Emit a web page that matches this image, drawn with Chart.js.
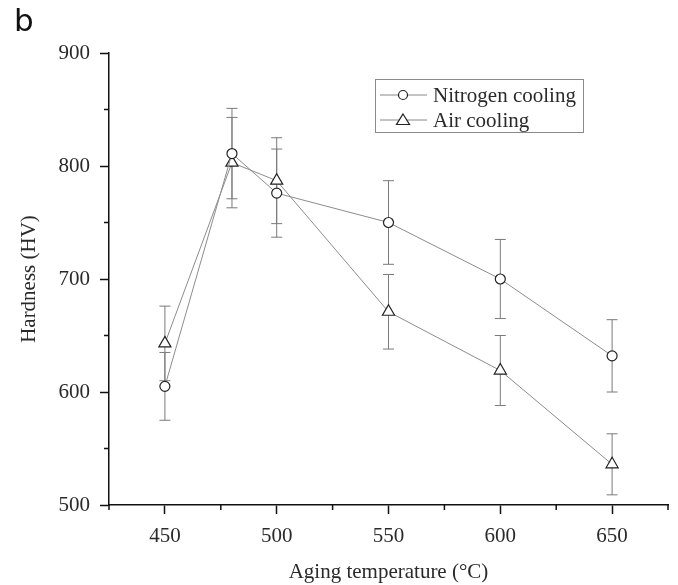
<!DOCTYPE html>
<html>
<head>
<meta charset="utf-8">
<script src="https://cdn.jsdelivr.net/npm/chart.js@4/dist/chart.umd.min.js"></script>
<style>
  html, body { margin: 0; padding: 0; background: #fff; }
  #wrap { position: relative; width: 678px; height: 585px; }
  #panel { position: absolute; left: 14px; top: 2px; font: 31px "DejaVu Sans", sans-serif; color: #111; }
</style>
</head>
<body>
<div id="wrap">
  <canvas id="hardness" width="678" height="585"></canvas>
  <div id="panel">b</div>
</div>
<script>
// aging temperature (°C)
const temps = [450, 480, 500, 550, 600, 650];
// hardness (HV) and error bar half-heights
const nitrogen = [605, 811, 776, 750, 700, 632];
const nitrogenErr = [30, 40, 39, 37, 35, 32];
const air = [643, 803, 787, 671, 619, 536];
const airErr = [33, 40, 38, 33, 31, 27];
const seriesNames = ['Nitrogen cooling', 'Air cooling'];
const xTicks = [450, 500, 550, 600, 650];
const yTicks = [500, 600, 700, 800, 900];

const serif = '"Liberation Serif", "Times New Roman", serif';
const textColor = '#2a2a2a';

function toPoints(xs, ys) {
    return xs.map((x, i) => ({ x: x, y: ys[i] }));
}

// error bars, drawn under the markers
const errorBars = {
    id: 'errorBars',
    beforeDatasetsDraw(chart) {
        const { ctx, scales: { x, y } } = chart;
        const errs = [nitrogenErr, airErr];
        ctx.save();
        ctx.strokeStyle = '#7a7a7a';
        ctx.lineWidth = 1;
        chart.data.datasets.forEach((ds, d) => {
            ds.data.forEach((p, i) => {
                const px = x.getPixelForValue(p.x);
                const top = y.getPixelForValue(p.y + errs[d][i]);
                const bot = y.getPixelForValue(p.y - errs[d][i]);
                ctx.beginPath();
                ctx.moveTo(px, top); ctx.lineTo(px, bot);
                ctx.moveTo(px - 5.5, top); ctx.lineTo(px + 5.5, top);
                ctx.moveTo(px - 5.5, bot); ctx.lineTo(px + 5.5, bot);
                ctx.stroke();
            });
        });
        ctx.restore();
    }
};

// short minor ticks
const minorTicks = {
    id: 'minorTicks',
    afterDraw(chart) {
        const { ctx, scales: { x, y } } = chart;
        ctx.save();
        ctx.strokeStyle = '#111';
        ctx.lineWidth = 1.5;
        ctx.beginPath();
        x.ticks.forEach(t => {
            if (t.value % 50 !== 0) {
                const px = x.getPixelForValue(t.value);
                ctx.moveTo(px, x.top); ctx.lineTo(px, x.top + 5);
            }
        });
        y.ticks.forEach(t => {
            if (t.value % 100 !== 0) {
                const py = y.getPixelForValue(t.value);
                ctx.moveTo(y.right, py); ctx.lineTo(y.right - 5, py);
            }
        });
        ctx.stroke();
        ctx.restore();
    }
};

// boxed legend inside the plot
const boxLegend = {
    id: 'boxLegend',
    afterDraw(chart) {
        const { ctx } = chart;
        const left = 375, top = 79, w = 208, h = 53;
        ctx.save();
        ctx.strokeStyle = '#8a8a8a';
        ctx.lineWidth = 1;
        ctx.strokeRect(left + 0.5, top + 0.5, w, h);
        ctx.font = '21px ' + serif;
        ctx.textBaseline = 'middle';
        chart.data.datasets.forEach((ds, i) => {
            const cy = top + 16 + i * 25;
            const mx = left + 28;
            ctx.strokeStyle = '#888';
            ctx.lineWidth = 1;
            ctx.beginPath();
            ctx.moveTo(left + 5, cy); ctx.lineTo(left + 52, cy);
            ctx.stroke();
            ctx.fillStyle = '#fff';
            ctx.strokeStyle = '#222';
            ctx.lineWidth = 1.2;
            ctx.beginPath();
            if (ds.pointStyle === 'triangle') {
                ctx.moveTo(mx, cy - 6);
                ctx.lineTo(mx + 6.5, cy + 4.5);
                ctx.lineTo(mx - 6.5, cy + 4.5);
                ctx.closePath();
            } else {
                ctx.arc(mx, cy, 4.5, 0, Math.PI * 2);
            }
            ctx.fill();
            ctx.stroke();
            ctx.fillStyle = textColor;
            ctx.fillText(ds.label, left + 58, cy + 1);
        });
        ctx.restore();
    }
};

const ctx = document.getElementById('hardness').getContext('2d');
new Chart(ctx, {
    type: 'line',
    data: {
        datasets: [{
            label: seriesNames[0],
            data: toPoints(temps, nitrogen),
            pointStyle: 'circle',
            pointRadius: 5,
            borderColor: '#8c8c8c',
            borderWidth: 1,
            pointBorderColor: '#222',
            pointBackgroundColor: '#fff',
            pointBorderWidth: 1.2
        }, {
            label: seriesNames[1],
            data: toPoints(temps, air),
            pointStyle: 'triangle',
            pointRadius: 7,
            borderColor: '#8c8c8c',
            borderWidth: 1,
            pointBorderColor: '#222',
            pointBackgroundColor: '#fff',
            pointBorderWidth: 1.2
        }]
    },
    options: {
        responsive: false,
        animation: false,
        layout: { padding: { top: 53, right: 4, left: 0, bottom: 0 } },
        plugins: {
            legend: { display: false },
            tooltip: { enabled: false }
        },
        scales: {
            x: {
                type: 'linear',
                min: 425,
                max: 675,
                afterBuildTicks: (scale) => {
                    const t = [];
                    for (let v = 425; v <= 675; v += 25) t.push({ value: v });
                    scale.ticks = t;
                },
                afterFit: (scale) => { scale.height = 80; },
                border: { display: true, color: '#111', width: 1.5 },
                grid: {
                    drawOnChartArea: false,
                    tickLength: 9,
                    tickWidth: 1.5,
                    tickColor: (c) => (c.tick && xTicks.includes(c.tick.value)) ? '#111' : 'rgba(0,0,0,0)'
                },
                ticks: {
                    autoSkip: false,
                    maxRotation: 0,
                    padding: 10,
                    color: textColor,
                    font: { family: serif, size: 21 },
                    callback: (v) => xTicks.includes(v) ? String(v) : ''
                },
                title: {
                    display: true,
                    text: 'Aging temperature (°C)',
                    color: textColor,
                    font: { family: serif, size: 21 },
                    padding: { top: 4, bottom: 0 }
                }
            },
            y: {
                min: 500,
                max: 900,
                afterBuildTicks: (scale) => {
                    const t = [];
                    for (let v = 500; v <= 900; v += 50) t.push({ value: v });
                    scale.ticks = t;
                },
                afterFit: (scale) => { scale.width = 109; },
                border: { display: true, color: '#111', width: 1.5 },
                grid: {
                    drawOnChartArea: false,
                    tickLength: 9,
                    tickWidth: 1.5,
                    tickColor: (c) => (c.tick && yTicks.includes(c.tick.value)) ? '#111' : 'rgba(0,0,0,0)'
                },
                ticks: {
                    autoSkip: false,
                    padding: 10,
                    color: textColor,
                    font: { family: serif, size: 21 },
                    callback: (v) => yTicks.includes(v) ? String(v) : ''
                },
                title: {
                    display: true,
                    text: 'Hardness (HV)',
                    color: textColor,
                    font: { family: serif, size: 21 },
                    padding: { top: 17, bottom: 4 }
                }
            }
        }
    },
    plugins: [errorBars, minorTicks, boxLegend]
});
</script>
</body>
</html>
